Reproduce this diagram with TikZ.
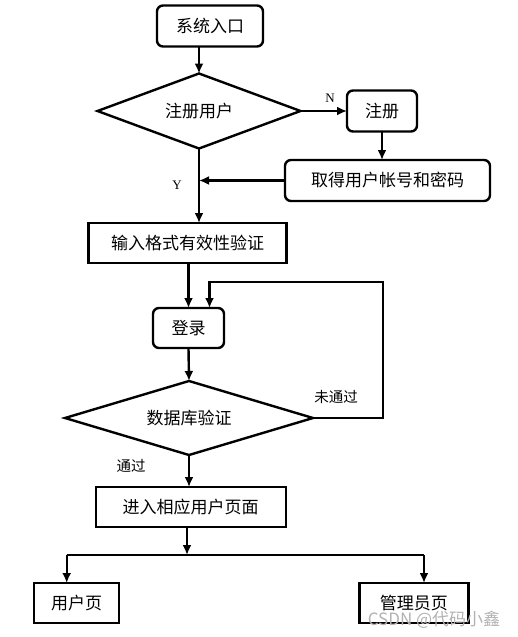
\documentclass[tikz,border=0pt]{standalone}
\usepackage{fontspec}
\usepackage{tikz}
\usetikzlibrary{shapes.geometric,arrows.meta}
\newfontfamily\cjk{Noto Sans CJK SC}
\newfontfamily\latn{Liberation Serif}

\tikzset{
  box/.style={draw, line width=2.4pt, inner sep=0pt, outer sep=0pt,
    minimum height=41pt, font=\cjk\fontsize{17}{19}\selectfont},
  rbox/.style={box, rounded corners=6pt},
  decide/.style={box, diamond, shape aspect=2.7},
  lbl/.style={inner sep=0pt, font=\cjk\fontsize{14.5}{16}\selectfont},
}

\begin{document}
\begin{tikzpicture}[x=1pt,y=1pt,yscale=-1,xscale=1,line width=2.4pt,
  >={Latex[length=10pt,width=9pt]}]
\useasboundingbox (0,0) rectangle (518,637);
                    %Shape: Rounded Rect
                    \node[rbox, minimum width=106pt] (entry) at (210,26) {系统入口};
                    %Shape: Diamond
                    \node[decide, minimum width=203pt, minimum height=75pt] (regq) at (199,111) {注册用户};
                    %Shape: Rounded Rect
                    \node[rbox, minimum width=70pt] (reg) at (382,111) {注册};
                    %Shape: Rounded Rect
                    \node[rbox, minimum width=205pt] (acct) at (387.5,180.5) {取得用户帐号和密码};
                    %Shape: Rectangle
                    \node[box, minimum width=198pt, minimum height=40pt] (check) at (187.5,243) {输入格式有效性验证};
                    %Shape: Rounded Rect
                    \node[rbox, minimum width=71pt, minimum height=40pt] (login) at (188.5,328) {登录};
                    %Shape: Diamond
                    \node[decide, minimum width=248pt, minimum height=74pt] (dbq) at (189,418) {数据库验证};
                    %Shape: Rectangle
                    \node[box, minimum width=190pt, minimum height=40pt] (enter) at (190.7,507) {进入相应用户页面};
                    %Shape: Rectangle
                    \node[box, minimum width=85pt, minimum height=40pt] (user) at (76.7,603) {用户页};
                    %Shape: Rectangle
                    \node[box, minimum width=109pt, minimum height=40pt] (admin) at (413.8,603) {管理员页};

                    \coordinate (yjoin) at (regq.south |- acct.west);
                    \coordinate (loop) at (382.7,281.7);
                    \coordinate (loopin) at ([xshift=21pt]login.north);
                    \coordinate (split) at (187,555);
                    \coordinate (lft) at (66.7,555);
                    \coordinate (rgt) at (424,555);

                    %Straight Lines
                    \draw[->] (entry.south -| regq.north) -- (regq.north);
                    \draw[->] (regq.east) -- (reg.west);
                    \draw[->] (reg.south) -- (reg.south |- acct.north);
                    \draw[->] (acct.west) -- (yjoin);
                    \draw[->] (regq.south) -- (regq.south |- check.north);
                    \draw[->] (login.north |- check.south) -- (login.north);
                    \draw[->] (login.south) -- (dbq.north);
                    \draw[->] (dbq.east) -- (dbq.east -| loop) -- (loop) -- (loop -| loopin) -- (loopin);
                    \draw[->] (dbq.south) -- (dbq.south |- enter.north);
                    \draw[->] (enter.south -| split) -- (split);
                    \draw (lft) -- (rgt);
                    \draw[->] (lft) -- (lft |- user.north);
                    \draw[->] (rgt) -- (rgt |- admin.north);

                    % Text Node
                    \node[inner sep=0pt, font=\latn\fontsize{13}{15}\selectfont] (nlab) at (330,98) {N};
                    % Text Node
                    \node[inner sep=0pt, font=\latn\fontsize{13}{15}\selectfont] (ylab) at (177,185) {Y};
                    % Text Node
                    \node[lbl] (fail) at (336,397) {未通过};
                    % Text Node
                    \node[lbl] (pass) at (131,466) {通过};
                    % Text Node
                    \node[lbl, text=black!30, font=\cjk\fontsize{17}{19}\selectfont] (mark) at (434,620) {CSDN @代码小鑫};
\end{tikzpicture}
\end{document}
